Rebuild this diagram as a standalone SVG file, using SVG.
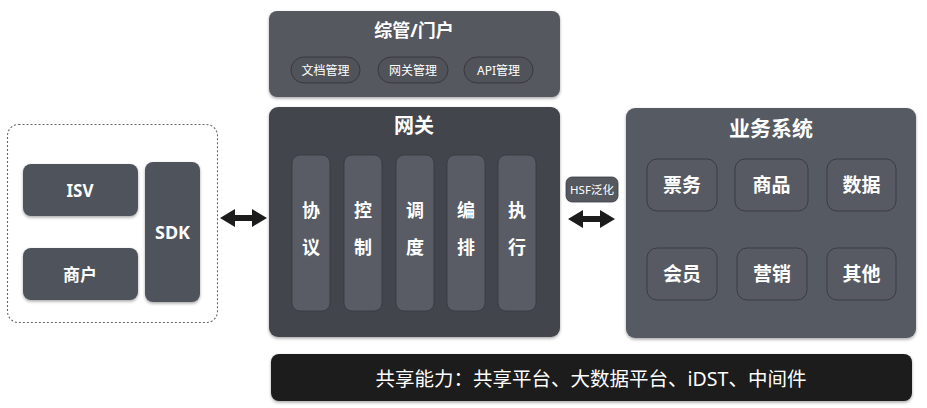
<svg xmlns="http://www.w3.org/2000/svg" width="927" height="408" viewBox="0 0 927 408">
<defs>
<filter id="sh" x="-10%" y="-10%" width="120%" height="130%">
<feDropShadow dx="0" dy="1.5" stdDeviation="1.5" flood-color="#000" flood-opacity="0.35"/>
</filter>
</defs>
<style>
text{font-family:"Noto Sans","Noto Sans CJK SC",sans-serif;fill:#fff;text-anchor:middle;dominant-baseline:central}
.b{font-weight:bold}
.box{fill:#50535b}
.cell{fill:#575a62;stroke:#3a3c42;stroke-width:1}
.col{fill:#595c64;stroke:#35373d;stroke-width:0.8}
.pill{fill:#51535a;stroke:#37393e;stroke-width:1}
.arr{fill:#1c1c1c}
</style>
<rect width="927" height="408" fill="#fff"/>

<g id="caller">
<rect x="7.5" y="124.5" width="210" height="198" rx="11" fill="none" stroke="#666" stroke-width="1.1" stroke-dasharray="2,2"/>
<text x="112" y="141" class="b" font-size="19">调用方</text>
</g>
<g id="isv"><rect class="box" x="23" y="164" width="115" height="52" rx="8" filter="url(#sh)"/><text x="80" y="190" class="b" font-size="17">ISV</text></g>
<g id="merchant"><rect class="box" x="23" y="248" width="115" height="52" rx="8" filter="url(#sh)"/><text x="80" y="274" class="b" font-size="17">商户</text></g>
<g id="sdk"><rect class="box" x="145" y="162" width="55" height="140" rx="8" filter="url(#sh)"/><text x="172.5" y="232" class="b" font-size="18">SDK</text></g>

<g id="portal">
<rect x="269" y="11" width="291" height="86" rx="8" fill="#56585f" filter="url(#sh)"/>
<text x="414" y="30" class="b" font-size="18">综管/门户</text>
<rect class="pill" x="291" y="57" width="69" height="26" rx="13"/><text x="325.5" y="70" font-size="12">文档管理</text>
<rect class="pill" x="378" y="57" width="70" height="26" rx="13"/><text x="413" y="70" font-size="12">网关管理</text>
<rect class="pill" x="464" y="57" width="69" height="26" rx="13"/><text x="498.5" y="70" font-size="12">API管理</text>
</g>

<g id="gateway">
<rect x="269" y="107" width="291" height="230" rx="9" fill="#43454c" filter="url(#sh)"/>
<text x="414" y="125" class="b" font-size="20">网关</text>
<rect class="col" x="292" y="155" width="38" height="156" rx="8"/><text x="311" y="210" class="b" font-size="18">协</text><text x="311" y="247" class="b" font-size="18">议</text>
<rect class="col" x="344" y="155" width="38" height="156" rx="8"/><text x="363" y="210" class="b" font-size="18">控</text><text x="363" y="247" class="b" font-size="18">制</text>
<rect class="col" x="396" y="155" width="38" height="156" rx="8"/><text x="415" y="210" class="b" font-size="18">调</text><text x="415" y="247" class="b" font-size="18">度</text>
<rect class="col" x="447" y="155" width="38" height="156" rx="8"/><text x="466" y="210" class="b" font-size="18">编</text><text x="466" y="247" class="b" font-size="18">排</text>
<rect class="col" x="498" y="155" width="38" height="156" rx="8"/><text x="517" y="210" class="b" font-size="18">执</text><text x="517" y="247" class="b" font-size="18">行</text>
</g>

<g id="business">
<rect x="626" y="108" width="290" height="230" rx="9" fill="#575a62" filter="url(#sh)"/>
<text x="771" y="128" class="b" font-size="21">业务系统</text>
<rect class="cell" x="647" y="159" width="70" height="52" rx="10"/><text x="682" y="185" class="b" font-size="19">票务</text>
<rect class="cell" x="735" y="159" width="73" height="52" rx="10"/><text x="771.5" y="185" class="b" font-size="19">商品</text>
<rect class="cell" x="827" y="159" width="69" height="52" rx="10"/><text x="861.5" y="185" class="b" font-size="19">数据</text>
<rect class="cell" x="647" y="248" width="70" height="52" rx="10"/><text x="682" y="274" class="b" font-size="19">会员</text>
<rect class="cell" x="737" y="248" width="70" height="52" rx="10"/><text x="772" y="274" class="b" font-size="19">营销</text>
<rect class="cell" x="827" y="248" width="69" height="52" rx="10"/><text x="861.5" y="274" class="b" font-size="19">其他</text>
</g>

<g id="shared">
<rect x="271" y="354" width="641" height="47" rx="8" fill="#1f1d1e" filter="url(#sh)"/>
<text x="591" y="378" font-size="19.5">共享能力：共享平台、大数据平台、iDST、中间件</text>
</g>

<g id="hsf">
<rect x="566" y="177" width="52" height="25" rx="6" fill="#55585f" stroke="#3a3c42" stroke-width="0.8"/>
<text x="592" y="189.5" font-size="11.5">HSF泛化</text>
</g>

<g id="connectors">
<path class="arr" d="M220,218 L235,209 L235,215 L252,215 L252,209 L267,218 L252,227 L252,221 L235,221 L235,227 Z"/>
<path class="arr" d="M568,219 L583,210 L583,216 L600,216 L600,210 L615,219 L600,228 L600,222 L583,222 L583,228 Z"/>
</g>
</svg>
